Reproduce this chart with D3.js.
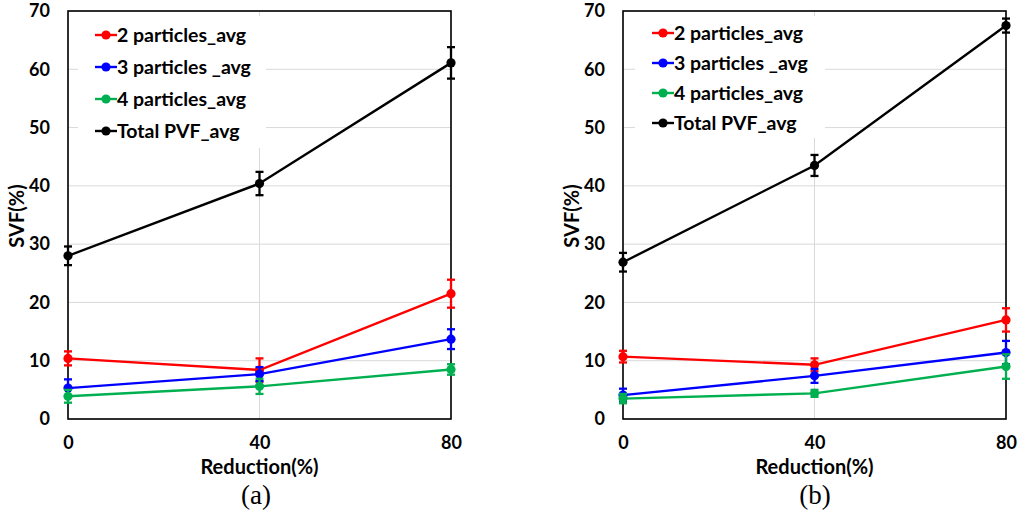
<!DOCTYPE html>
<html><head><meta charset="utf-8">
<script src="https://cdn.jsdelivr.net/npm/d3@7"></script>
<style>html,body{margin:0;padding:0;background:#fff;} svg{display:block;}</style>
</head><body>
<svg id="chart" width="1020" height="516"></svg>
<script>
const xCats = [0, 40, 80];
const yTicks = [0, 10, 20, 30, 40, 50, 60, 70];
const seriesNames = ["2 particles_avg", "3 particles _avg", "4 particles_avg", "Total PVF_avg"];
const seriesColors = ["#ff0000", "#0000ff", "#00b050", "#000000"];

// Panel (a)
const a2 = [10.4, 8.4, 21.5], a2err = [1.2, 2.0, 2.4];
const a3 = [5.3, 7.7, 13.7], a3err = [1.5, 1.2, 1.7];
const a4 = [3.9, 5.6, 8.5], a4err = [1.1, 1.3, 0.9];
const aT = [28.0, 40.4, 61.1], aTerr = [1.6, 2.0, 2.7];
// Panel (b)
const b2 = [10.7, 9.3, 17.0], b2err = [1.0, 1.1, 2.0];
const b3 = [4.1, 7.4, 11.4], b3err = [1.1, 1.2, 2.0];
const b4 = [3.5, 4.4, 9.0], b4err = [0.8, 0.6, 2.1];
const bT = [26.9, 43.5, 67.5], bTerr = [1.6, 1.8, 1.2];

const xTitle = "Reduction(%)";
const yTitle = "SVF(%)";

const svg = d3.select("#chart");
const FONT = "Lato, 'Open Sans', sans-serif";

function drawPanel(cfg) {
  const g = svg.append("g");
  const x = d3.scaleLinear().domain([0, 80]).range([cfg.left, cfg.right]);
  const y = d3.scaleLinear().domain([0, 70]).range([419, 11]);

  // grid
  g.append("g").selectAll("line.h").data(yTicks).join("line")
    .attr("x1", cfg.left).attr("x2", cfg.right)
    .attr("y1", d => y(d)).attr("y2", d => y(d))
    .attr("stroke", "#d9d9d9").attr("stroke-width", 1);
  g.append("g").selectAll("line.v").data(xCats).join("line")
    .attr("x1", d => x(d)).attr("x2", d => x(d))
    .attr("y1", y(0)).attr("y2", y(70))
    .attr("stroke", "#d9d9d9").attr("stroke-width", 1);

  // legend background
  g.append("rect").attr("x", cfg.legBox[0]).attr("y", cfg.legBox[1])
    .attr("width", cfg.legBox[2]).attr("height", cfg.legBox[3]).attr("fill", "#fff");

  // axes via d3 axis (no tick lines)
  const yAxis = d3.axisLeft(y).tickValues(yTicks).tickSize(0).tickPadding(cfg.left - cfg.yLabelRight);
  const ya = g.append("g").attr("transform", `translate(${cfg.left},0)`).call(yAxis);
  ya.select(".domain").remove();
  ya.selectAll("text").attr("font-family", FONT).attr("font-weight", "bold").attr("font-size", 18).attr("fill", "#000");

  const xAxis = d3.axisBottom(x).tickValues(xCats).tickSize(0).tickPadding(17);
  const xa = g.append("g").attr("transform", `translate(0,${y(0)})`).call(xAxis);
  xa.select(".domain").remove();
  xa.selectAll("text").attr("font-family", FONT).attr("font-weight", "bold").attr("font-size", 18).attr("fill", "#000");

  // frame
  g.append("rect").attr("x", cfg.left).attr("y", y(70))
    .attr("width", cfg.right - cfg.left).attr("height", y(0) - y(70))
    .attr("fill", "none").attr("stroke", "#000").attr("stroke-width", 1.6);

  const line = d3.line().x((d, i) => x(xCats[i])).y(d => y(d));

  cfg.series.forEach((s, k) => {
    const col = seriesColors[k];
    g.append("path").datum(s.v).attr("d", line).attr("fill", "none")
      .attr("stroke", col).attr("stroke-width", 2.4);
    g.append("g").selectAll("circle").data(s.v).join("circle")
      .attr("cx", (d, i) => x(xCats[i])).attr("cy", d => y(d)).attr("r", 4.6).attr("fill", col);
    const eb = g.append("g").attr("stroke", col).attr("stroke-width", 2.3).attr("fill", "none");
    s.v.forEach((d, i) => {
      const cx = x(xCats[i]), y1 = y(d + s.e[i]), y2 = y(d - s.e[i]);
      eb.append("line").attr("x1", cx).attr("x2", cx).attr("y1", y1).attr("y2", y2);
      eb.append("line").attr("x1", cx - 4).attr("x2", cx + 4).attr("y1", y1).attr("y2", y1);
      eb.append("line").attr("x1", cx - 4).attr("x2", cx + 4).attr("y1", y2).attr("y2", y2);
    });
  });

  // legend
  seriesNames.forEach((n, k) => {
    const ly = cfg.legY0 + k * cfg.legDy;
    g.append("line").attr("x1", cfg.legX).attr("x2", cfg.legX + 22).attr("y1", ly).attr("y2", ly)
      .attr("stroke", seriesColors[k]).attr("stroke-width", 2.4);
    g.append("circle").attr("cx", cfg.legX + 11).attr("cy", ly).attr("r", 4.6).attr("fill", seriesColors[k]);
    g.append("text").attr("x", cfg.legX + 22).attr("y", ly).attr("dy", "0.35em")
      .attr("font-family", FONT).attr("font-weight", "bold").attr("font-size", 19.5).text(n);
  });

  // axis titles
  g.append("text").attr("x", (cfg.left + cfg.right) / 2).attr("y", 467).attr("dy", "0.35em")
    .attr("text-anchor", "middle").attr("font-family", FONT).attr("font-weight", "bold").attr("font-size", 20).text(xTitle);
  g.append("text").attr("transform", `translate(${cfg.yTitleX},216) rotate(-90)`).attr("dy", "0.35em")
    .attr("text-anchor", "middle").attr("font-family", FONT).attr("font-weight", "bold").attr("font-size", 20).text(yTitle);
  g.append("text").attr("x", cfg.capX).attr("y", 504)
    .attr("text-anchor", "middle").attr("font-family", "'Liberation Serif', 'Times New Roman', serif").attr("font-size", 27).text(cfg.caption);
}

drawPanel({
  left: 68, right: 451, yLabelRight: 50, yTitleX: 17, capX: 256, caption: "(a)",
  legBox: [78, 16, 188, 132], legX: 95, legY0: 35, legDy: 32,
  series: [{v: a2, e: a2err}, {v: a3, e: a3err}, {v: a4, e: a4err}, {v: aT, e: aTerr}]
});
drawPanel({
  left: 623, right: 1006, yLabelRight: 605, yTitleX: 572, capX: 815, caption: "(b)",
  legBox: [635, 16, 190, 122], legX: 652, legY0: 33, legDy: 30,
  series: [{v: b2, e: b2err}, {v: b3, e: b3err}, {v: b4, e: b4err}, {v: bT, e: bTerr}]
});
</script>
</body></html>
